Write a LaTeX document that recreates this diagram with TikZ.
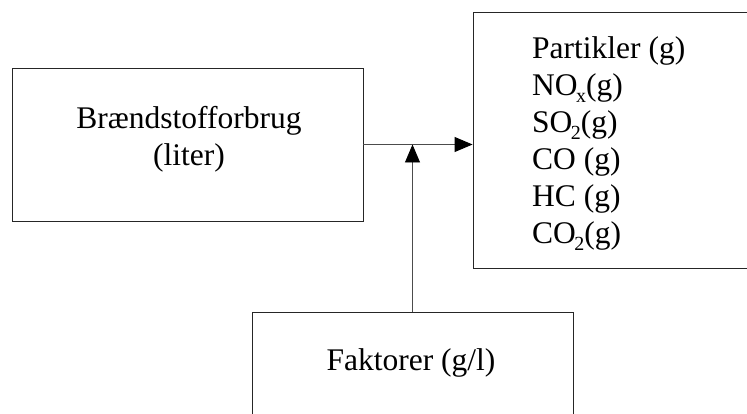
\documentclass[tikz,border=0pt]{standalone}
\usepackage{fontspec}
\setmainfont{Liberation Serif}
\usetikzlibrary{arrows.meta}
\tikzset{
  boxnode/.style={draw=black!85, line width=0.9pt, rectangle, inner sep=0pt},
  txt/.style={font=\fontsize{31.5pt}{37pt}\selectfont, inner sep=0pt},
  conn/.style={draw=black!70, line width=0.9pt, -{Triangle[length=18pt,width=15pt,color=black]}}
}
\newcommand{\mysub}[1]{\kern-0.05em\raisebox{-0.22em}{\fontsize{20pt}{20pt}\selectfont #1}}
\begin{document}
\begin{tikzpicture}[x=1pt,y=-1pt]
\useasboundingbox (0,0) rectangle (747,414);
\clip (0,0) rectangle (747,414);
\fill[white] (0,0) rectangle (747,414);
\node[boxnode, minimum width=351pt, minimum height=153pt] (fuel) at (187.5,144.5) {};
\node[txt, align=center] (fueltxt) at (189,139) {Brændstofforbrug\\(liter)};
\node[boxnode, minimum width=300pt, minimum height=256pt] (out) at (623,140) {};
\node[txt, align=left, anchor=west] (outtxt) at (532,144) {Partikler (g)\\NO\mysub{x}(g)\\SO\mysub{2}(g)\\CO (g)\\HC (g)\\CO\mysub{2}(g)};
\node[boxnode, minimum width=321pt, minimum height=130pt] (fac) at (412.5,377) {};
\node[txt] (factxt) at (411,363) {Faktorer (g/l)};
\draw[conn] (fuel.east) -- (fuel.east -| out.west);
\draw[conn] (fac.north) -- (fac.north |- fuel.east);
\end{tikzpicture}
\end{document}
